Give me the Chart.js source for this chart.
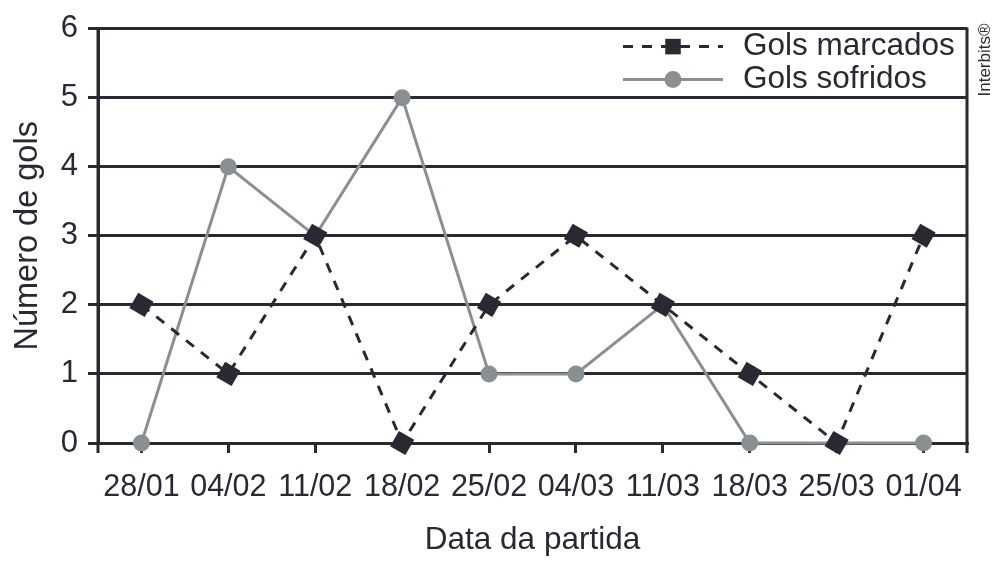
<!DOCTYPE html>
<html>
<head>
<meta charset="utf-8">
<script src="https://cdn.jsdelivr.net/npm/chart.js@4.4.0/dist/chart.umd.min.js"></script>
<style>
  html, body { margin: 0; padding: 0; background: #fff; }
  canvas { display: block; }
</style>
</head>
<body>
<canvas id="chart" width="1000" height="562"></canvas>
<script>
// data
const datas = ['28/01', '04/02', '11/02', '18/02', '25/02', '04/03', '11/03', '18/03', '25/03', '01/04'];
const golsMarcados = [2, 1, 3, 0, 2, 3, 2, 1, 0, 3];
const golsSofridos = [0, 4, 3, 5, 1, 1, 2, 0, 0, 0];
const yTicks = [0, 1, 2, 3, 4, 5, 6];

const dark = '#2b2833';
const gray = '#8a9092';
const fontFamily = '"Liberation Sans", Arial, Helvetica, sans-serif';

// legend drawn inside the plot, plus the outer frame and the credit text
const extras = {
    id: 'extras',
    afterDraw(chart) {
        const ctx = chart.ctx;
        const area = chart.chartArea;
        ctx.save();

        // vertical frame lines, running a bit below the axis like ticks
        ctx.strokeStyle = dark;
        ctx.lineWidth = 3;
        ctx.beginPath();
        ctx.moveTo(area.left, area.top);
        ctx.lineTo(area.left, area.bottom + 10);
        ctx.moveTo(area.right, area.top - 1);
        ctx.lineTo(area.right, area.bottom + 10);
        ctx.stroke();

        // legend
        chart.data.datasets.forEach((ds, i) => {
            const y = area.top + 18 + i * 33;
            const x0 = area.right - 344;
            const x1 = area.right - 244;
            ctx.strokeStyle = ds.borderColor;
            ctx.lineWidth = ds.borderWidth;
            ctx.setLineDash(ds.borderDash || []);
            ctx.beginPath();
            ctx.moveTo(x0, y);
            ctx.lineTo(x1, y);
            ctx.stroke();
            ctx.setLineDash([]);
            ctx.fillStyle = ds.pointBackgroundColor;
            Chart.helpers.drawPoint(ctx, {
                pointStyle: ds.pointStyle,
                rotation: 0,
                radius: ds.legendRadius,
                borderWidth: 0
            }, (x0 + x1) / 2, y);
            ctx.fillStyle = dark;
            ctx.font = '31.5px ' + fontFamily;
            ctx.textAlign = 'left';
            ctx.textBaseline = 'middle';
            ctx.fillText(ds.label, x1 + 20, y);
        });

        // credit
        ctx.translate(chart.width - 15, 60);
        ctx.rotate(-Math.PI / 2);
        ctx.fillStyle = dark;
        ctx.font = '17px ' + fontFamily;
        ctx.textAlign = 'center';
        ctx.textBaseline = 'middle';
        ctx.fillText('Interbits®', 0, 0);
        ctx.restore();
    }
};

new Chart(document.getElementById('chart'), {
    type: 'line',
    data: {
        labels: datas,
        datasets: [
            {
                label: 'Gols marcados',
                data: golsMarcados,
                borderColor: dark,
                borderWidth: 3,
                borderDash: [10, 9],
                pointStyle: 'rect',
                pointRadius: 12.5,
                legendRadius: 11,
                pointRotation: 30,
                pointBackgroundColor: dark,
                pointBorderWidth: 0,
                tension: 0,
                clip: false
            },
            {
                label: 'Gols sofridos',
                data: golsSofridos,
                borderColor: gray,
                borderWidth: 3,
                pointStyle: 'circle',
                pointRadius: 8.5,
                legendRadius: 8.5,
                pointBackgroundColor: gray,
                pointBorderWidth: 0,
                tension: 0,
                clip: false
            }
        ]
    },
    options: {
        responsive: false,
        animation: false,
        devicePixelRatio: 1,
        layout: {
            padding: { left: 0, right: 33, top: 28, bottom: 0 }
        },
        plugins: {
            legend: { display: false },
            tooltip: { enabled: false }
        },
        scales: {
            x: {
                offset: true,
                afterFit(scale) { scale.height = 119; },
                grid: {
                    offset: false,
                    drawOnChartArea: false,
                    drawTicks: true,
                    tickLength: 10,
                    color: dark,
                    lineWidth: 3
                },
                border: { display: true, color: dark, width: 3 },
                ticks: {
                    color: dark,
                    padding: 16,
                    maxRotation: 0,
                    autoSkip: false,
                    font: { family: fontFamily, size: 30.5 }
                },
                title: {
                    display: true,
                    text: 'Data da partida',
                    color: dark,
                    padding: { top: 0, bottom: 3 },
                    font: { family: fontFamily, size: 31.5 }
                }
            },
            y: {
                min: yTicks[0],
                max: yTicks[yTicks.length - 1],
                afterFit(scale) { scale.width = 98; },
                grid: {
                    color: dark,
                    lineWidth: 3,
                    drawTicks: true,
                    tickLength: 10
                },
                border: { display: true, color: dark, width: 3 },
                ticks: {
                    stepSize: 1,
                    color: dark,
                    padding: 10,
                    font: { family: fontFamily, size: 31 }
                },
                title: {
                    display: true,
                    text: 'Número de gols',
                    color: dark,
                    padding: { top: 9, bottom: 0 },
                    font: { family: fontFamily, size: 32.5 }
                }
            }
        }
    },
    plugins: [extras]
});
</script>
</body>
</html>
